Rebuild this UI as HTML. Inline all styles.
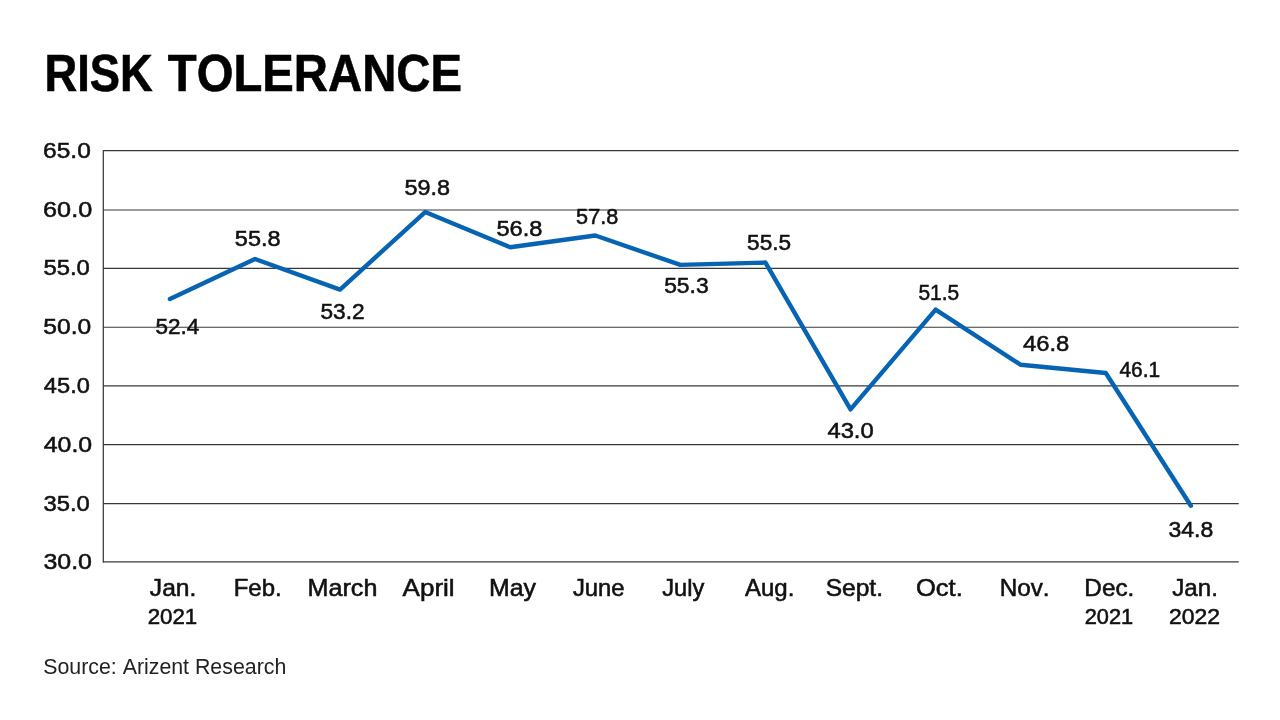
<!DOCTYPE html>
<html lang="en"><head><meta charset="utf-8"><title>RISK TOLERANCE</title>
<style>
html,body{margin:0;padding:0;background:#fff;}
body{width:1280px;height:720px;overflow:hidden;}
svg{display:block;}
text{font-family:"Liberation Sans",sans-serif;fill:#111;font-kerning:none;}
.t{font-weight:bold;font-size:51.5px;fill:#000;stroke:#000;stroke-width:0.6px;}
.d{font-size:22.8px;stroke:#111;stroke-width:0.55px;}
.x{stroke:#111;stroke-width:0.55px;}
.y{font-size:22.8px;stroke:#111;stroke-width:0.55px;}
.s{font-size:21.5px;fill:#222;}
</style></head><body>
<svg width="1280" height="720" viewBox="0 0 1280 720">
<rect width="1280" height="720" fill="#fff"/>
<text class="t" y="91.3"><tspan x="44.47" textLength="108.25" lengthAdjust="spacingAndGlyphs">RISK</tspan> <tspan x="167.77" textLength="294.28" lengthAdjust="spacingAndGlyphs">TOLERANCE</tspan></text>
<g stroke="#383838" stroke-width="1.1" fill="none">
<line x1="103" y1="150.65" x2="1238.7" y2="150.65"/>
<line x1="103" y1="210.05" x2="1238.7" y2="210.05"/>
<line x1="103" y1="268.35" x2="1238.7" y2="268.35"/>
<line x1="103" y1="327.30" x2="1238.7" y2="327.30"/>
<line x1="103" y1="385.90" x2="1238.7" y2="385.90"/>
<line x1="103" y1="444.60" x2="1238.7" y2="444.60"/>
<line x1="103" y1="503.60" x2="1238.7" y2="503.60"/>
<line x1="103" y1="561.85" x2="1238.7" y2="561.85"/>
<line x1="103.3" y1="150.1" x2="103.3" y2="562.55" stroke-width="1.25"/>
</g>
<text class="y" x="43.13" y="157.7" textLength="47.65" lengthAdjust="spacingAndGlyphs">65.0</text>
<text class="y" x="43.09" y="217.1" textLength="49.12" lengthAdjust="spacingAndGlyphs">60.0</text>
<text class="y" x="43.42" y="275.4" textLength="46.44" lengthAdjust="spacingAndGlyphs">55.0</text>
<text class="y" x="43.39" y="334.35" textLength="47.90" lengthAdjust="spacingAndGlyphs">50.0</text>
<text class="y" x="43.83" y="392.95" textLength="46.02" lengthAdjust="spacingAndGlyphs">45.0</text>
<text class="y" x="43.80" y="451.65" textLength="48.39" lengthAdjust="spacingAndGlyphs">40.0</text>
<text class="y" x="43.47" y="510.65" textLength="46.39" lengthAdjust="spacingAndGlyphs">35.0</text>
<text class="y" x="43.42" y="569.05" textLength="48.58" lengthAdjust="spacingAndGlyphs">30.0</text>
<polyline fill="none" stroke="#0764b3" stroke-width="4.4" stroke-linecap="round" stroke-linejoin="round" points="169.90,298.98 254.98,259.04 340.06,289.58 425.14,212.04 510.22,247.29 595.30,235.54 680.38,264.91 765.46,262.56 850.54,409.42 935.62,309.56 1020.70,364.78 1105.78,373.00 1190.86,505.76"/>
<text class="d" x="155.47" y="333.7" textLength="43.81" lengthAdjust="spacingAndGlyphs">52.4</text>
<text class="d" x="234.83" y="246.4" textLength="45.71" lengthAdjust="spacingAndGlyphs">55.8</text>
<text class="d" x="320.47" y="319.2" textLength="44.10" lengthAdjust="spacingAndGlyphs">53.2</text>
<text class="d" x="404.54" y="194.5" textLength="45.50" lengthAdjust="spacingAndGlyphs">59.8</text>
<text class="d" x="496.43" y="236" textLength="46.02" lengthAdjust="spacingAndGlyphs">56.8</text>
<text class="d" x="576.11" y="223.75" textLength="42.11" lengthAdjust="spacingAndGlyphs">57.8</text>
<text class="d" x="664.16" y="293" textLength="44.47" lengthAdjust="spacingAndGlyphs">55.3</text>
<text class="d" x="747.07" y="249.75" textLength="44.00" lengthAdjust="spacingAndGlyphs">55.5</text>
<text class="d" x="827.43" y="437.5" textLength="46.27" lengthAdjust="spacingAndGlyphs">43.0</text>
<text class="d" x="918.39" y="300" textLength="40.77" lengthAdjust="spacingAndGlyphs">51.5</text>
<text class="d" x="1023.03" y="351.25" textLength="46.28" lengthAdjust="spacingAndGlyphs">46.8</text>
<text class="d" x="1119.39" y="376.9" textLength="40.75" lengthAdjust="spacingAndGlyphs">46.1</text>
<text class="d" x="1168.50" y="537" textLength="44.72" lengthAdjust="spacingAndGlyphs">34.8</text>
<text class="x" x="149.84" y="595.6" textLength="46.53" lengthAdjust="spacingAndGlyphs" font-size="23.4">Jan.</text>
<text class="x" x="147.65" y="623.6" textLength="49.56" lengthAdjust="spacingAndGlyphs" font-size="22">2021</text>
<text class="x" x="233.71" y="595.6" textLength="47.90" lengthAdjust="spacingAndGlyphs" font-size="23.4">Feb.</text>
<text class="x" x="307.62" y="595.6" textLength="69.74" lengthAdjust="spacingAndGlyphs" font-size="23.4">March</text>
<text class="x" x="402.62" y="595.6" textLength="52.04" lengthAdjust="spacingAndGlyphs" font-size="23.4">April</text>
<text class="x" x="488.94" y="595.6" textLength="46.94" lengthAdjust="spacingAndGlyphs" font-size="23.4">May</text>
<text class="x" x="572.90" y="595.6" textLength="51.68" lengthAdjust="spacingAndGlyphs" font-size="23.4">June</text>
<text class="x" x="662.31" y="595.6" textLength="42.07" lengthAdjust="spacingAndGlyphs" font-size="23.4">July</text>
<text class="x" x="744.93" y="595.6" textLength="49.39" lengthAdjust="spacingAndGlyphs" font-size="23.4">Aug.</text>
<text class="x" x="825.66" y="595.6" textLength="57.31" lengthAdjust="spacingAndGlyphs" font-size="23.4">Sept.</text>
<text class="x" x="915.97" y="595.6" textLength="46.79" lengthAdjust="spacingAndGlyphs" font-size="23.4">Oct.</text>
<text class="x" x="999.68" y="595.6" textLength="49.96" lengthAdjust="spacingAndGlyphs" font-size="23.4">Nov.</text>
<text class="x" x="1084.38" y="595.6" textLength="49.96" lengthAdjust="spacingAndGlyphs" font-size="23.4">Dec.</text>
<text class="x" x="1084.68" y="623.6" textLength="48.51" lengthAdjust="spacingAndGlyphs" font-size="22">2021</text>
<text class="x" x="1172.30" y="595.6" textLength="45.63" lengthAdjust="spacingAndGlyphs" font-size="23.4">Jan.</text>
<text class="x" x="1168.92" y="623.6" textLength="51.06" lengthAdjust="spacingAndGlyphs" font-size="22">2022</text>
<text class="s" x="43.23" y="673.7" textLength="243.05" lengthAdjust="spacingAndGlyphs">Source: Arizent Research</text>
</svg></body></html>
